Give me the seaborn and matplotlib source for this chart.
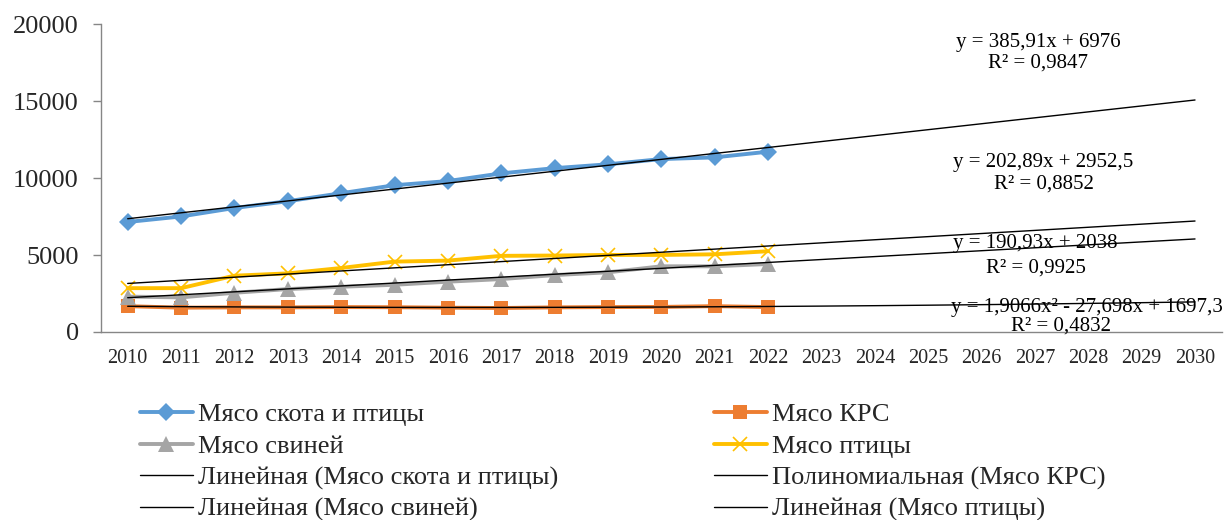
import matplotlib
matplotlib.use("Agg")
import matplotlib.pyplot as plt
import seaborn as sns
import pandas as pd
import numpy as np

years = [str(y) for y in range(2010, 2031)]
data_years = list(range(2010, 2023))

meat_total = [7150, 7510, 8060, 8500, 9020, 9540, 9810, 10310, 10650, 10900, 11240, 11350, 11720]
meat_krs = [1680, 1580, 1600, 1600, 1620, 1610, 1580, 1560, 1600, 1620, 1630, 1680, 1620]
meat_pork = [2300, 2250, 2550, 2790, 2940, 3070, 3270, 3440, 3700, 3880, 4270, 4270, 4420]
meat_poultry = [2850, 2850, 3660, 3810, 4160, 4575, 4640, 4950, 4970, 5010, 5010, 5050, 5250]

# trend coefficients as shown on the chart (highest power first)
trend_total = [385.91, 6976]
trend_krs = [1.9066, -27.698, 1697.3]
trend_pork = [190.93, 2038]
trend_poultry = [202.89, 2952.5]

sns.set_theme(style="white")
plt.rcParams['font.family'] = ['Liberation Serif', 'DejaVu Serif']

fig = plt.figure(figsize=(12.29, 5.2), dpi=100)
ax = fig.add_axes([101 / 1229, 1 - 332 / 520, 1120.7 / 1229, 307.7 / 520])

idx = np.arange(len(data_years))
all_idx = np.arange(len(years))

series = [
    ("Мясо скота и птицы", meat_total, "#5B9BD5", "D", 9.5),
    ("Мясо КРС", meat_krs, "#ED7D31", "s", 9.5),
    ("Мясо свиней", meat_pork, "#A5A5A5", "^", 11),
    ("Мясо птицы", meat_poultry, "#FFC000", "x", 10),
]
for name, vals, col, mk, ms in series:
    sns.lineplot(x=idx, y=vals, ax=ax, color=col, linewidth=2.8, marker=mk,
                 markersize=ms, markeredgecolor=col, markeredgewidth=1.2 if mk == "x" else 0,
                 label=name)

trends = [
    ("Линейная (Мясо скота и птицы)", trend_total),
    ("Полиномиальная (Мясо КРС)", trend_krs),
    ("Линейная (Мясо свиней)", trend_pork),
    ("Линейная (Мясо птицы)", trend_poultry),
]
for name, coefs in trends:
    sns.lineplot(x=all_idx, y=np.polyval(coefs, all_idx + 1), ax=ax, color="black",
                 linewidth=1.0, label=name)

ax.set_xlim(-0.5, len(years) - 0.5)
ax.set_ylim(0, 20000)
ax.set_yticks([0, 5000, 10000, 15000, 20000])
ax.set_yticklabels(["0", "5000", "10000", "15000", "20000"], fontsize=19)
ax.set_xticks(all_idx)
ax.set_xticklabels(years, fontsize=14.5)
ax.set_xticks(np.arange(-0.5, len(years)), minor=True)
ax.tick_params(axis="x", which="major", length=0, pad=12)
ax.tick_params(axis="x", which="minor", length=5, color="#868686", width=1)
ax.tick_params(axis="y", length=6, color="#868686", width=1, left=True, pad=10)
for s in ["top", "right"]:
    ax.spines[s].set_visible(False)
for s in ["left", "bottom"]:
    ax.spines[s].set_color("#868686")
    ax.spines[s].set_linewidth(1)

ann = dict(ha="center", va="center", fontsize=15, transform=ax.transAxes, color="black")
ax.text(0.836, 0.942, "y = 385,91x + 6976", **ann)
ax.text(0.836, 0.874, "R² = 0,9847", **ann)
ax.text(0.841, 0.552, "y = 202,89x + 2952,5", **ann)
ax.text(0.841, 0.481, "R² = 0,8852", **ann)
ax.text(0.834, 0.286, "y = 190,93x + 2038", **ann)
ax.text(0.834, 0.208, "R² = 0,9925", **ann)
ax.text(0.880, 0.081, "y = 1,9066x² - 27,698x + 1697,3", **ann)
ax.text(0.857, 0.0195, "R² = 0,4832", **ann)

h, l = ax.get_legend_handles_labels()
order = [0, 2, 4, 6, 1, 3, 5, 7]
ax.legend([h[i] for i in order], [l[i] for i in order], ncol=2, frameon=False,
          fontsize=19, loc="upper left", bbox_to_anchor=(140 / 1229, 1 - 403 / 520),
          bbox_transform=fig.transFigure, borderpad=0, borderaxespad=0,
          handlelength=2.0, handletextpad=0.2, labelspacing=0.3, columnspacing=5.9)

fig.savefig("out.png", dpi=100)
